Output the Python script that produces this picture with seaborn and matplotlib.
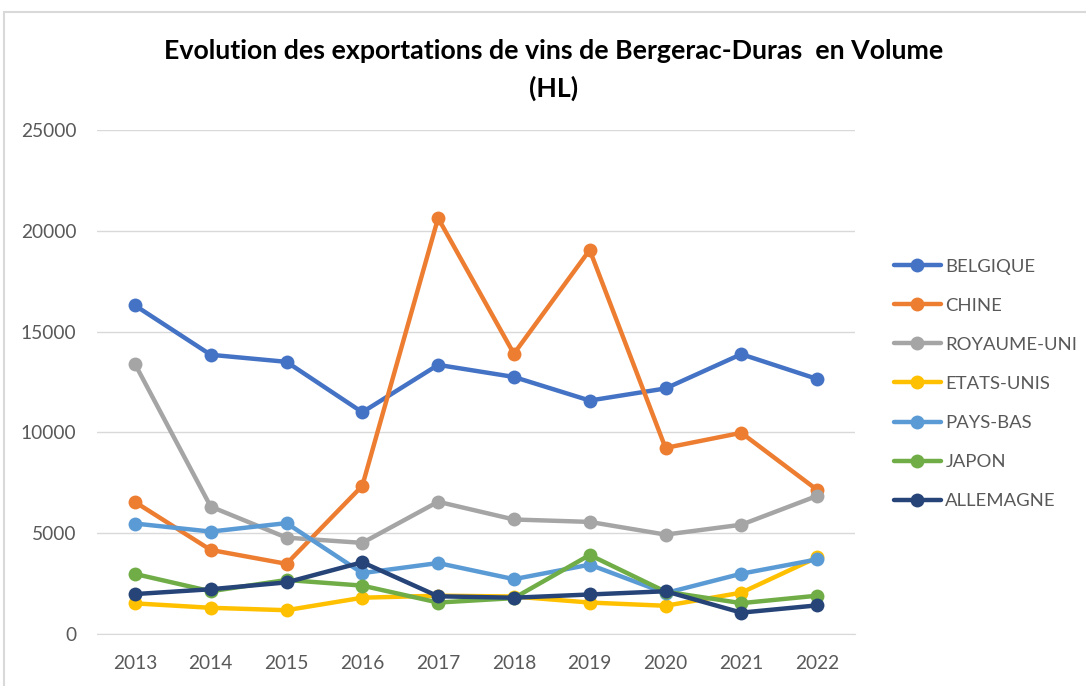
import pandas as pd
import matplotlib.pyplot as plt
import seaborn as sns
from matplotlib.patches import Rectangle

years = [2013, 2014, 2015, 2016, 2017, 2018, 2019, 2020, 2021, 2022]

belgique = [16300, 13850, 13500, 11000, 13350, 12750, 11580, 12180, 13880, 12650]
chine = [6550, 4170, 3480, 7350, 20630, 13900, 19050, 9230, 9980, 7150]
royaume_uni = [13400, 6320, 4780, 4520, 6560, 5680, 5560, 4930, 5420, 6850]
etats_unis = [1520, 1300, 1180, 1800, 1900, 1860, 1560, 1400, 2050, 3800]
pays_bas = [5480, 5080, 5500, 3020, 3520, 2720, 3440, 2030, 2990, 3700]
japon = [2980, 2120, 2680, 2400, 1560, 1780, 3920, 2100, 1530, 1900]
allemagne = [1980, 2220, 2560, 3560, 1870, 1800, 1960, 2120, 1060, 1420]

countries = ["BELGIQUE", "CHINE", "ROYAUME-UNI", "ETATS-UNIS", "PAYS-BAS", "JAPON", "ALLEMAGNE"]
colors = ["#4472C4", "#ED7D31", "#A5A5A5", "#FFC000", "#5B9BD5", "#70AD47", "#264478"]

series = [belgique, chine, royaume_uni, etats_unis, pays_bas, japon, allemagne]
rows = []
for name, vals in zip(countries, series):
    for y, v in zip(years, vals):
        rows.append({"annee": y, "pays": name, "volume": v})
df = pd.DataFrame(rows)

sns.set_style("white")
plt.rcParams['font.family'] = ['Lato', 'DejaVu Sans']

fig = plt.figure(figsize=(10.86, 6.86), dpi=100)
ax = fig.add_axes([97 / 1086, 1 - 634 / 686, (855 - 97) / 1086, (634 - 130) / 686])

# chart frame like the Excel chart area
fig.patches.append(Rectangle((4 / 1086, -0.05), 1.1, 1 - 12 / 686 + 0.05,
                             transform=fig.transFigure, fill=False,
                             edgecolor="#D9D9D9", linewidth=1.5))

sns.lineplot(data=df, x="annee", y="volume", hue="pays", hue_order=countries,
             palette=colors, marker="o", markersize=10, markeredgewidth=0,
             linewidth=3.2, ax=ax)

ax.set_ylim(0, 25000)
ax.set_xlim(2012.5, 2022.5)
ax.set_yticks(range(0, 25001, 5000))
ax.set_xticks(years)
ax.yaxis.grid(True, color="#D9D9D9", linewidth=1)
ax.xaxis.grid(False)
for s in ["top", "right", "left"]:
    ax.spines[s].set_visible(False)
ax.spines["bottom"].set_color("#D9D9D9")
ax.tick_params(axis="both", colors="#595959", labelsize=13.8, length=0)
ax.tick_params(axis="x", pad=15)
ax.tick_params(axis="y", pad=15)
ax.set_xlabel("")
ax.set_ylabel("")

fig.text(554 / 1086, 1 - 51 / 686, "Evolution des exportations de vins de Bergerac-Duras  en Volume",
         ha="center", va="center", fontsize=19.3, fontweight="bold", color="black")
fig.text(554 / 1086, 1 - 88 / 686, "(HL)", ha="center", va="center",
         fontsize=19.3, fontweight="bold", color="black")

leg = ax.legend(loc="upper left", bbox_to_anchor=(877 / 1086, 1 - 242 / 686),
                bbox_transform=fig.transFigure, frameon=False, fontsize=13.3,
                labelspacing=1.25, handlelength=2.55, handletextpad=0.25)
for t in leg.get_texts():
    t.set_color("#595959")

fig.savefig("out.png", dpi=100)
